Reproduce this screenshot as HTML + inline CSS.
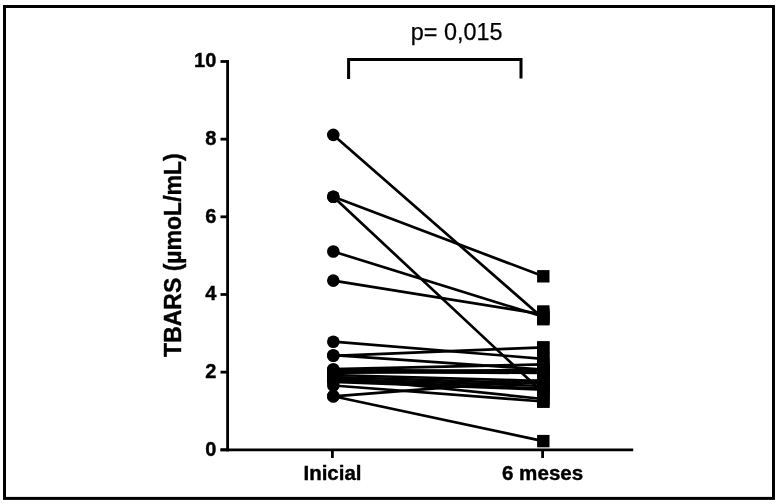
<!DOCTYPE html>
<html><head><meta charset="utf-8"><title>TBARS</title>
<style>
html,body{margin:0;padding:0;background:#fff;}
body{width:779px;height:504px;overflow:hidden;}
svg{display:block;}
text{font-family:"Liberation Sans",Arial,sans-serif;fill:#000;}
</style></head><body>
<svg width="779" height="504" viewBox="0 0 779 504">
<defs><filter id="soft" x="0" y="0" width="779" height="504" filterUnits="userSpaceOnUse"><feGaussianBlur stdDeviation="0.45"/></filter></defs>
<rect x="0" y="0" width="779" height="504" fill="#fff"/>
<g filter="url(#soft)">
<rect x="4.5" y="6.5" width="769" height="491.9" fill="none" stroke="#000" stroke-width="3"/>
<g stroke="#000" stroke-width="2.8" fill="none">
<line x1="227.6" y1="60.2" x2="227.6" y2="451.2"/>
<line x1="220.5" y1="449.8" x2="633.2" y2="449.8"/>
<line x1="220.5" y1="449.80" x2="229" y2="449.80"/><line x1="220.5" y1="372.14" x2="229" y2="372.14"/><line x1="220.5" y1="294.48" x2="229" y2="294.48"/><line x1="220.5" y1="216.82" x2="229" y2="216.82"/><line x1="220.5" y1="139.16" x2="229" y2="139.16"/><line x1="220.5" y1="61.50" x2="229" y2="61.50"/>
<line x1="332.4" y1="449.8" x2="332.4" y2="458"/>
<line x1="542.6" y1="449.8" x2="542.6" y2="458"/>
<polyline points="348.6,79 348.6,59.4 521,59.4 521,78.5" stroke-width="3"/>
</g>
<g stroke="#000" stroke-width="2.7" stroke-linecap="round"><line x1="333.3" y1="134.9" x2="543.3" y2="318.5"/><line x1="333.3" y1="196.8" x2="543.3" y2="276.3"/><line x1="333.3" y1="196.8" x2="543.3" y2="393"/><line x1="333.3" y1="251.5" x2="543.3" y2="316.8"/><line x1="333.3" y1="280.6" x2="543.3" y2="314.3"/><line x1="333.3" y1="341.7" x2="543.3" y2="358.8"/><line x1="333.3" y1="355.2" x2="543.3" y2="369.5"/><line x1="333.3" y1="355.8" x2="543.3" y2="347.4"/><line x1="333.3" y1="369.2" x2="543.3" y2="364.4"/><line x1="333.3" y1="370" x2="543.3" y2="371"/><line x1="333.3" y1="371.5" x2="543.3" y2="373"/><line x1="333.3" y1="373" x2="543.3" y2="369.5"/><line x1="333.3" y1="372.5" x2="543.3" y2="372"/><line x1="333.3" y1="382" x2="543.3" y2="389.6"/><line x1="333.3" y1="375" x2="543.3" y2="381"/><line x1="333.3" y1="377" x2="543.3" y2="383.5"/><line x1="333.3" y1="379" x2="543.3" y2="386"/><line x1="333.3" y1="380.5" x2="543.3" y2="388.5"/><line x1="333.3" y1="377" x2="543.3" y2="399"/><line x1="333.3" y1="385.5" x2="543.3" y2="401.5"/><line x1="333.3" y1="396.3" x2="543.3" y2="380"/><line x1="333.3" y1="396.3" x2="543.3" y2="441.1"/></g>
<g fill="#000"><circle cx="333.3" cy="134.9" r="6.3"/><circle cx="333.3" cy="196.8" r="6.3"/><circle cx="333.3" cy="196.8" r="6.3"/><circle cx="333.3" cy="251.5" r="6.3"/><circle cx="333.3" cy="280.6" r="6.3"/><circle cx="333.3" cy="341.7" r="6.3"/><circle cx="333.3" cy="355.2" r="6.3"/><circle cx="333.3" cy="355.8" r="6.3"/><circle cx="333.3" cy="369.2" r="6.3"/><circle cx="333.3" cy="370" r="6.3"/><circle cx="333.3" cy="371.5" r="6.3"/><circle cx="333.3" cy="373" r="6.3"/><circle cx="333.3" cy="372.5" r="6.3"/><circle cx="333.3" cy="382" r="6.3"/><circle cx="333.3" cy="375" r="6.3"/><circle cx="333.3" cy="377" r="6.3"/><circle cx="333.3" cy="379" r="6.3"/><circle cx="333.3" cy="380.5" r="6.3"/><circle cx="333.3" cy="377" r="6.3"/><circle cx="333.3" cy="385.5" r="6.3"/><circle cx="333.3" cy="396.3" r="6.3"/><circle cx="333.3" cy="396.3" r="6.3"/><rect x="537.10" y="312.30" width="12.4" height="12.4"/><rect x="537.10" y="270.10" width="12.4" height="12.4"/><rect x="537.10" y="386.80" width="12.4" height="12.4"/><rect x="537.10" y="310.60" width="12.4" height="12.4"/><rect x="537.10" y="308.10" width="12.4" height="12.4"/><rect x="537.10" y="352.60" width="12.4" height="12.4"/><rect x="537.10" y="363.30" width="12.4" height="12.4"/><rect x="537.10" y="341.20" width="12.4" height="12.4"/><rect x="537.10" y="358.20" width="12.4" height="12.4"/><rect x="537.10" y="364.80" width="12.4" height="12.4"/><rect x="537.10" y="366.80" width="12.4" height="12.4"/><rect x="537.10" y="363.30" width="12.4" height="12.4"/><rect x="537.10" y="365.80" width="12.4" height="12.4"/><rect x="537.10" y="383.40" width="12.4" height="12.4"/><rect x="537.10" y="374.80" width="12.4" height="12.4"/><rect x="537.10" y="377.30" width="12.4" height="12.4"/><rect x="537.10" y="379.80" width="12.4" height="12.4"/><rect x="537.10" y="382.30" width="12.4" height="12.4"/><rect x="537.10" y="392.80" width="12.4" height="12.4"/><rect x="537.10" y="395.30" width="12.4" height="12.4"/><rect x="537.10" y="373.80" width="12.4" height="12.4"/><rect x="537.10" y="434.90" width="12.4" height="12.4"/><rect x="537.10" y="341.5" width="12.4" height="66.3"/><rect x="537.10" y="305.3" width="12.4" height="20.1"/></g>
<g font-weight="bold" font-size="20px" stroke="#000" stroke-width="0.4"><text x="216.3" y="455.70" text-anchor="end">0</text><text x="216.3" y="378.04" text-anchor="end">2</text><text x="216.3" y="300.38" text-anchor="end">4</text><text x="216.3" y="222.72" text-anchor="end">6</text><text x="216.3" y="145.06" text-anchor="end">8</text><text x="216.3" y="67.40" text-anchor="end">10</text>
<text x="332.5" y="479.7" text-anchor="middle" font-size="20.5px">Inicial</text>
<text x="542.6" y="479.7" text-anchor="middle" font-size="20.6px">6 meses</text>
</g>
<text font-weight="bold" font-size="23px" stroke="#000" stroke-width="0.4" text-anchor="middle" transform="translate(180.6,255.1) rotate(-90)">TBARS (µmoL/mL)</text>
<text x="456.6" y="39.7" font-size="23.4px" stroke="#000" stroke-width="0.25" text-anchor="middle">p= 0,015</text>
</g>
</svg>
</body></html>
